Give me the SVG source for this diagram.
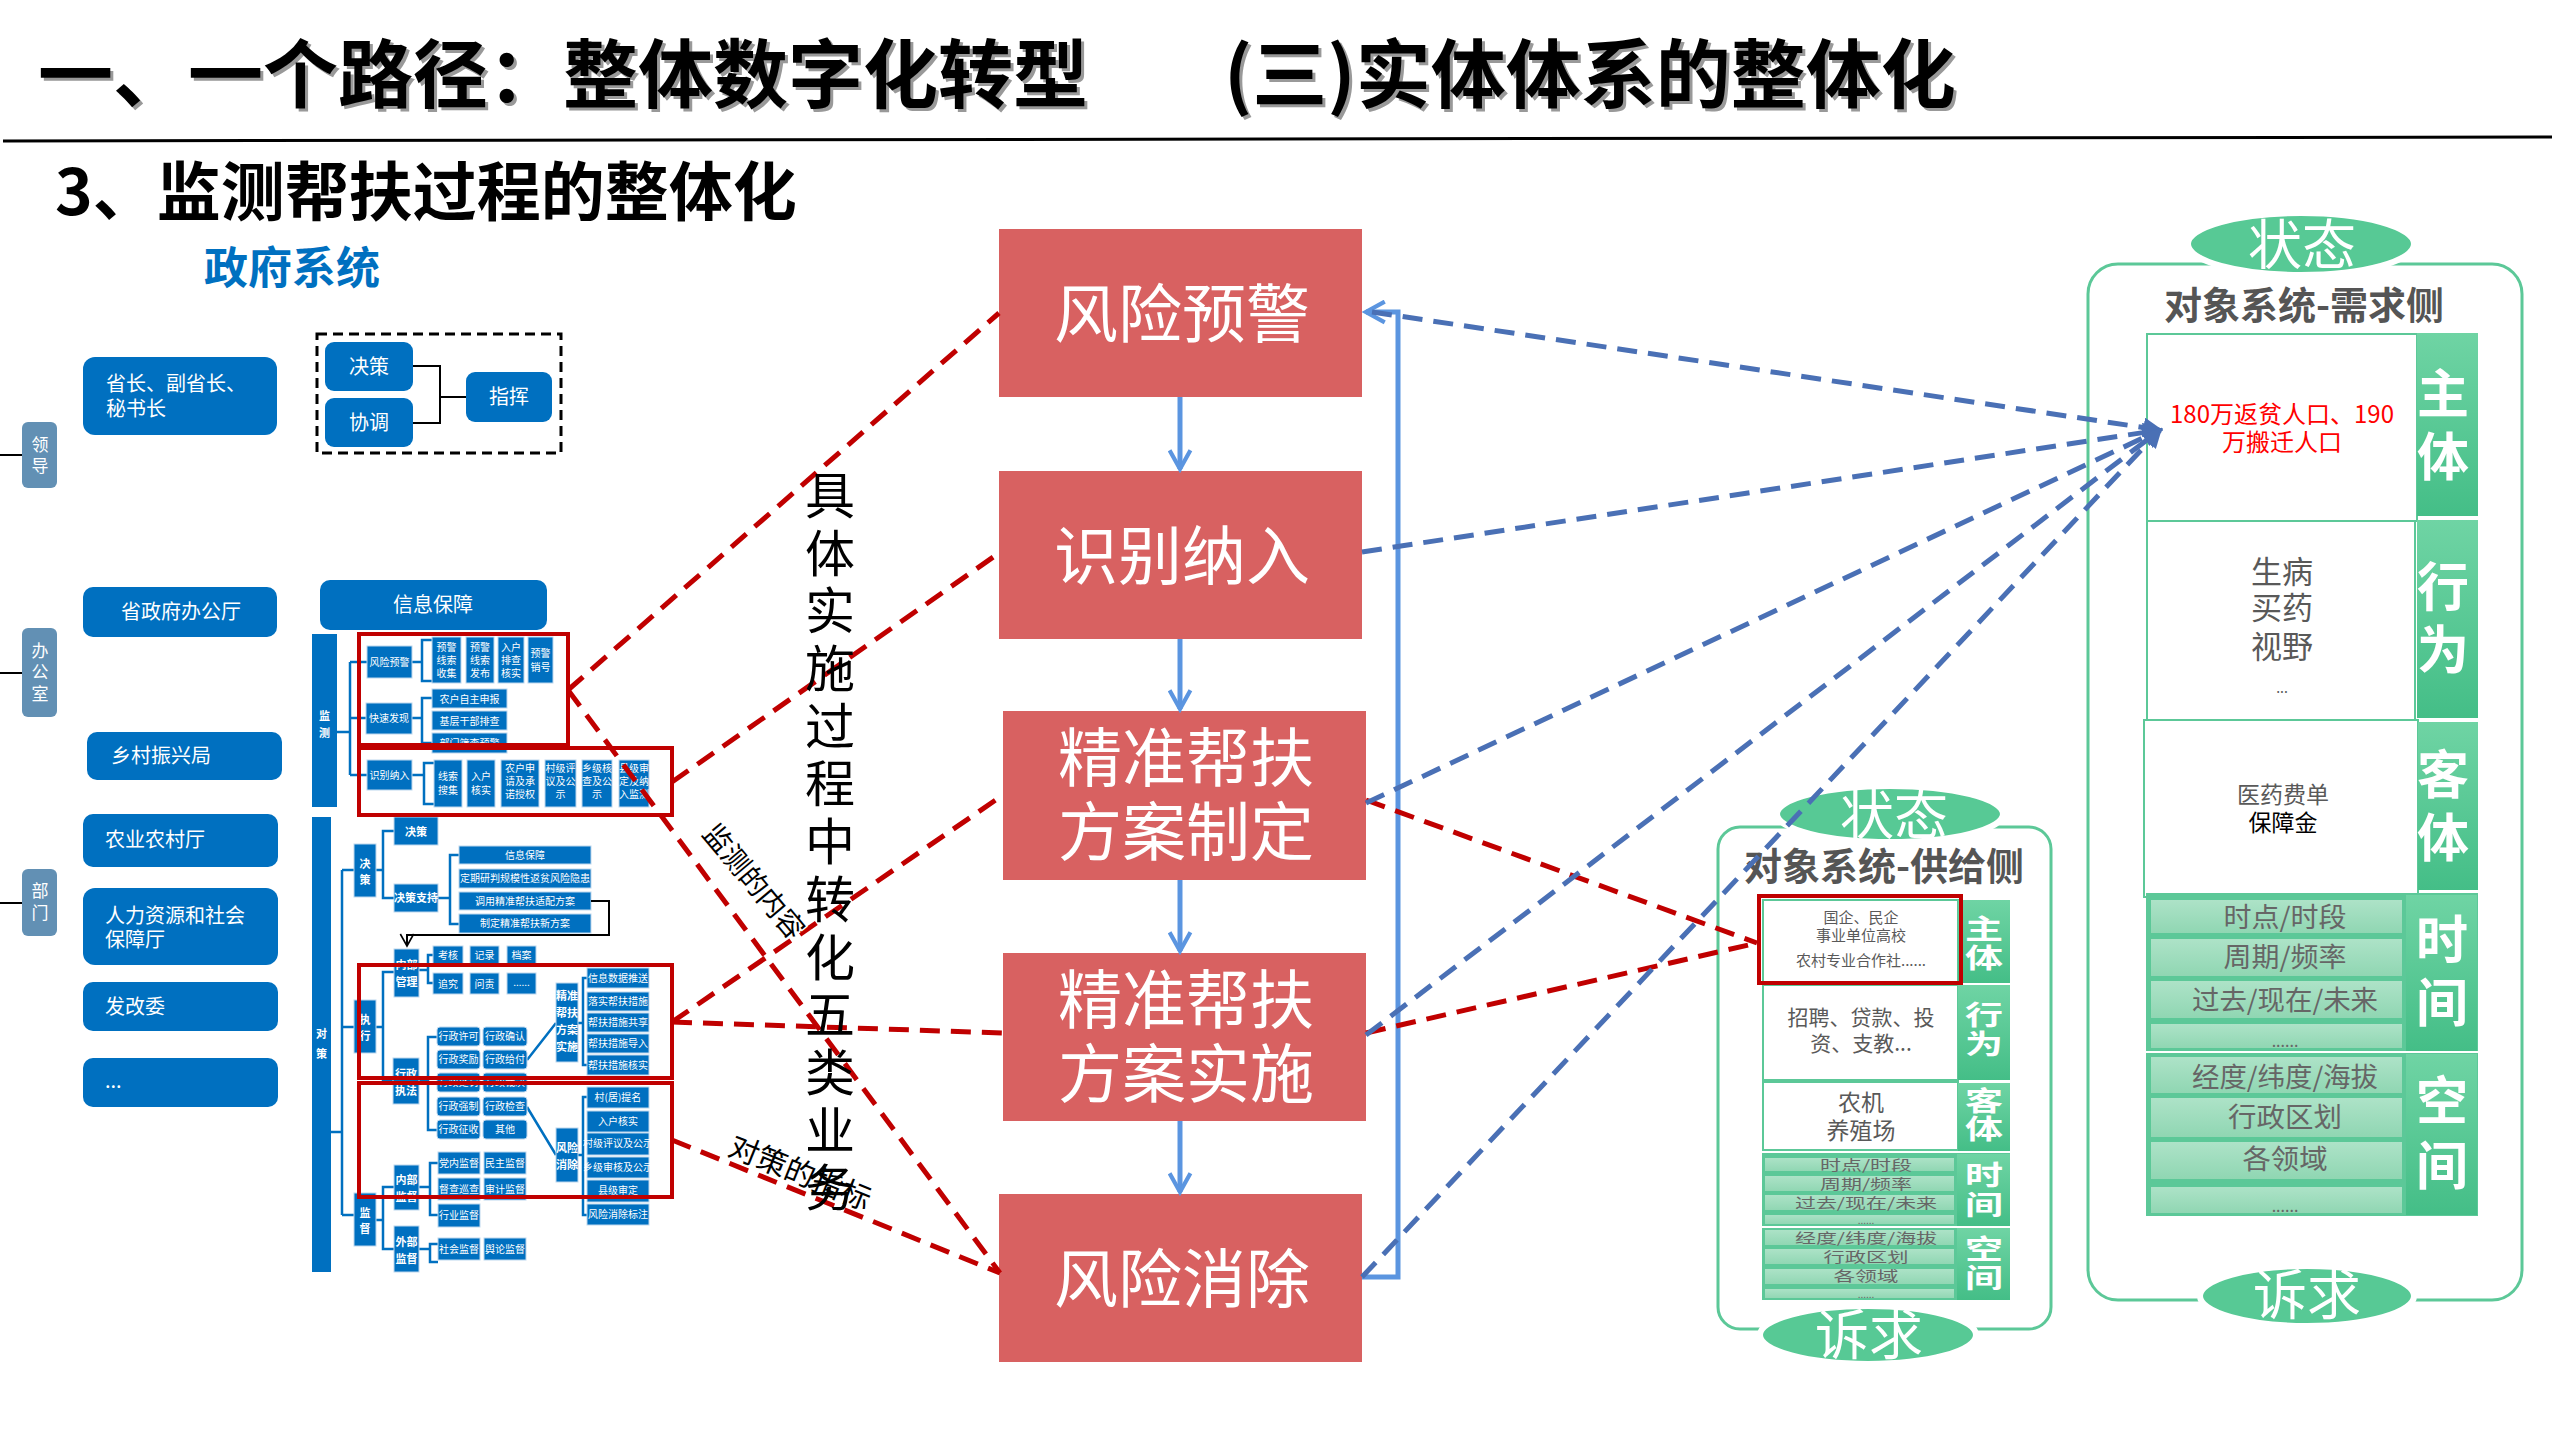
<svg xmlns="http://www.w3.org/2000/svg" width="2560" height="1440" viewBox="0 0 2560 1440">
<defs>
<style>
text{font-family:"Noto Sans CJK SC","Noto Sans",sans-serif}
.bb{fill:#0070C0}
.bt{fill:#fff;font-size:20px}
.sb{fill:#0070C0;stroke:#BDD7EE;stroke-width:1}
.st{fill:#fff;font-size:10px;text-anchor:middle}
.stb{fill:#fff;font-size:11px;font-weight:700;text-anchor:middle}
.lab{fill:#6290B4}
.lt{fill:#fff;font-size:17px;text-anchor:middle}
.tl{fill:none;stroke:#0070C0;stroke-width:2.5}
.rbox{fill:none;stroke:#C00000;stroke-width:4}
.flow{fill:#D86161}
.ft{fill:#fff;font-size:64px;text-anchor:middle}
.rd{fill:none;stroke:#C00000;stroke-width:5;stroke-dasharray:20 11}
.bd{fill:none;stroke:#4A70B5;stroke-width:5;stroke-dasharray:20 11}
.ba{fill:none;stroke:#5B95E0;stroke-width:5}
.gcol{fill:url(#gcol)}
.sub{fill:url(#gsub);stroke:#5CC898;stroke-width:2}
.gt{fill:#fff;font-weight:700;text-anchor:middle}
.wbox{fill:#fff;stroke:#5CC898;stroke-width:2}
.ct{fill:#595959;text-anchor:middle}
.ell{fill:#57C995;stroke:#fff;stroke-width:6}
.et{fill:#fff;font-size:54px;text-anchor:middle}
.vt{fill:#000;font-size:50px;text-anchor:middle}
</style>
<linearGradient id="gcol" x1="0" y1="0" x2="0" y2="1"><stop offset="0" stop-color="#6FD4A4"/><stop offset="1" stop-color="#44BE87"/></linearGradient>
<linearGradient id="gsub" x1="0" y1="0" x2="0" y2="1"><stop offset="0" stop-color="#AEE3C8"/><stop offset="1" stop-color="#8FD6B2"/></linearGradient>
<marker id="chev" viewBox="0 0 12 12" refX="10" refY="6" markerWidth="5" markerHeight="5" orient="auto"><path d="M1,1 L10,6 L1,11" fill="none" stroke="#5B95E0" stroke-width="2"/></marker>
<marker id="chevk" viewBox="0 0 12 12" refX="10" refY="6" markerWidth="8" markerHeight="8" orient="auto"><path d="M1,1 L10,6 L1,11" fill="none" stroke="#000" stroke-width="1.2"/></marker>
<marker id="tri" viewBox="0 0 12 12" refX="10" refY="6" markerWidth="4" markerHeight="4" orient="auto"><path d="M0,0 L12,6 L0,12 z" fill="#4A70B5"/></marker>
</defs>
<rect width="2560" height="1440" fill="#fff"/>

<g id="title">
<text x="41" y="105" font-size="75" font-weight="700" fill="#999">一、一个路径：整体数字化转型</text>
<text x="38" y="102" font-size="75" font-weight="700" fill="#000">一、一个路径：整体数字化转型</text>
<text x="1227" y="105" font-size="75" font-weight="700" fill="#999">(三)实体体系的整体化</text>
<text x="1224" y="102" font-size="75" font-weight="700" fill="#000">(三)实体体系的整体化</text>
<line x1="3" y1="141" x2="2552" y2="137" stroke="#000" stroke-width="3"/>
<text x="55" y="215" font-size="64" font-weight="700" fill="#000">3、监测帮扶过程的整体化</text>
<text x="204" y="284" font-size="44" font-weight="700" fill="#0070C0">政府系统</text>
</g>

<g id="gov-left">
<line x1="0" y1="455" x2="22" y2="455" stroke="#000" stroke-width="2"/>
<line x1="0" y1="673" x2="22" y2="673" stroke="#000" stroke-width="2"/>
<line x1="0" y1="903" x2="22" y2="903" stroke="#000" stroke-width="2"/>
<g id="lingdao"><rect class="lab" x="22" y="422" width="35" height="66" rx="6"/><text class="lt" x="40" y="451">领</text><text class="lt" x="40" y="472">导</text></g>
<g id="bangongshi"><rect class="lab" x="22" y="628" width="35" height="89" rx="6"/><text class="lt" x="40" y="657">办</text><text class="lt" x="40" y="678">公</text><text class="lt" x="40" y="700">室</text></g>
<g id="bumen"><rect class="lab" x="22" y="869" width="35" height="67" rx="6"/><text class="lt" x="40" y="897">部</text><text class="lt" x="40" y="919">门</text></g>
<g id="shengzhang"><rect class="bb" x="83" y="357" width="194" height="78" rx="12"/><text class="bt" x="106" y="391">省长、副省长、</text><text class="bt" x="106" y="416">秘书长</text></g>
<g id="juece-top"><rect class="bb" x="325" y="342" width="88" height="49" rx="9"/><text class="bt" x="369" y="374" text-anchor="middle" font-size="21">决策</text></g>
<g id="xietiao"><rect class="bb" x="325" y="398" width="88" height="49" rx="9"/><text class="bt" x="369" y="430" text-anchor="middle" font-size="21">协调</text></g>
<g id="zhihui"><rect class="bb" x="466" y="372" width="86" height="50" rx="9"/><text class="bt" x="509" y="404" text-anchor="middle" font-size="21">指挥</text></g>
<path d="M413,366 H440 V423 H413 M440,397 H466" fill="none" stroke="#000" stroke-width="2"/>
<rect x="317" y="334" width="244" height="119" fill="none" stroke="#000" stroke-width="3" stroke-dasharray="10 6"/>
<g id="bangongting"><rect class="bb" x="83" y="587" width="194" height="50" rx="10"/><text class="bt" x="181" y="619" text-anchor="middle" font-size="21">省政府办公厅</text></g>
<g id="xinxibaozhang-top"><rect class="bb" x="320" y="580" width="227" height="50" rx="10"/><text class="bt" x="433" y="612" text-anchor="middle" font-size="22">信息保障</text></g>
<g id="xiangcun"><rect class="bb" x="87" y="732" width="195" height="48" rx="10"/><text class="bt" x="111" y="763" font-size="21">乡村振兴局</text></g>
<g id="nongye"><rect class="bb" x="83" y="814" width="195" height="53" rx="10"/><text class="bt" x="105" y="847" font-size="21">农业农村厅</text></g>
<g id="renli"><rect class="bb" x="83" y="888" width="195" height="77" rx="12"/><text class="bt" x="105" y="923" font-size="21">人力资源和社会</text><text class="bt" x="105" y="947" font-size="21">保障厅</text></g>
<g id="fagaiwei"><rect class="bb" x="83" y="982" width="195" height="49" rx="10"/><text class="bt" x="105" y="1014" font-size="21">发改委</text></g>
<g id="more"><rect class="bb" x="83" y="1058" width="195" height="49" rx="10"/><text class="bt" x="105" y="1088" font-size="16">...</text></g>
</g>

<g id="monitor-tree">
<rect class="bb" x="312" y="634" width="25" height="173"/>
<text class="stb" x="324.5" y="720" font-size="13">监</text><text class="stb" x="324.5" y="737" font-size="13">测</text>
<path class="tl" d="M337,732 H350 M350,662 V775 M350,662 H367 M350,718 H366 M350,775 H367 M412,662 H422 M432,640 H422 V681 H432 M412,718 H422 M432,698 H422 V743 H432 M412,775 H424 M434,763 H424 V804 H434"/>
<rect class="sb" x="367" y="646" width="45" height="32"/><text class="st" x="389.5" y="666">风险预警</text>
<rect class="sb" x="432" y="637" width="29" height="46"/><text class="st" x="446.5" y="651" font-size="11">预警</text><text class="st" x="446.5" y="664" font-size="11">线索</text><text class="st" x="446.5" y="677" font-size="11">收集</text>
<rect class="sb" x="466" y="637" width="28" height="46"/><text class="st" x="480" y="651" font-size="11">预警</text><text class="st" x="480" y="664" font-size="11">线索</text><text class="st" x="480" y="677" font-size="11">发布</text>
<rect class="sb" x="498" y="637" width="26" height="46"/><text class="st" x="511" y="651" font-size="11">入户</text><text class="st" x="511" y="664" font-size="11">排查</text><text class="st" x="511" y="677" font-size="11">核实</text>
<rect class="sb" x="528" y="637" width="25" height="46"/><text class="st" x="540.5" y="657" font-size="11">预警</text><text class="st" x="540.5" y="671" font-size="11">销号</text>
<rect class="sb" x="366" y="703" width="46" height="31"/><text class="st" x="389" y="722">快速发现</text>
<rect class="sb" x="432" y="689" width="75" height="19"/><text class="st" x="469.5" y="703" font-size="11">农户自主申报</text>
<rect class="sb" x="432" y="711" width="75" height="19"/><text class="st" x="469.5" y="725" font-size="11">基层干部排查</text>
<rect class="sb" x="432" y="733" width="75" height="20"/><text class="st" x="469.5" y="747" font-size="11">部门筛查预警</text>
<rect class="sb" x="367" y="760" width="45" height="30"/><text class="st" x="389.5" y="779">识别纳入</text>
<rect class="sb" x="434" y="760" width="28" height="47"/><text class="st" x="448" y="780" font-size="11">线索</text><text class="st" x="448" y="794" font-size="11">搜集</text>
<rect class="sb" x="467" y="760" width="28" height="47"/><text class="st" x="481" y="780" font-size="11">入户</text><text class="st" x="481" y="794" font-size="11">核实</text>
<rect class="sb" x="501" y="760" width="38" height="47"/><text class="st" x="520" y="772" font-size="11">农户申</text><text class="st" x="520" y="785" font-size="11">请及承</text><text class="st" x="520" y="798" font-size="11">诺授权</text>
<rect class="sb" x="545" y="760" width="31" height="47"/><text class="st" x="560.5" y="772">村级评</text><text class="st" x="560.5" y="785">议及公</text><text class="st" x="560.5" y="798">示</text>
<rect class="sb" x="582" y="760" width="30" height="47"/><text class="st" x="597" y="772">乡级核</text><text class="st" x="597" y="785">查及公</text><text class="st" x="597" y="798">示</text>
<rect class="sb" x="619" y="760" width="30" height="47"/><text class="st" x="634" y="772">县级审</text><text class="st" x="634" y="785">定及纳</text><text class="st" x="634" y="798">入监测</text>
</g>

<g id="policy-tree">
<rect class="bb" x="312" y="817" width="19" height="455"/>
<text class="stb" x="321.5" y="1038" font-size="14">对</text><text class="stb" x="321.5" y="1058" font-size="14">策</text>
<path class="tl" d="M331,1132 H342 M342,870 V1215 M342,870 H354 M342,1027 H354 M342,1215 H354 M376,870 H383 M394,831 H383 V898 H394 M438,898 H450 M459,855 H450 V924 H459 M376,1027 H383 M394,972 H383 V1080 H393 M419,970 H428 M433,955 H428 V983 H433 M419,1081 H428 M437,1037 H428 V1130 H437 M527,1060 L556,1023 M527,1107 L556,1155 M578,1023 H583 M587,978 H583 V1065 H587 M578,1155 H583 M587,1097 H583 V1215 H587 M376,1220 H383 M394,1187 H383 V1249 H394 M419,1187 H430 M438,1163 H430 V1215 H438 M419,1249 H430 M438,1244 H430 V1262 H438"/>
<rect class="sb" x="354" y="844" width="22" height="53"/><text class="stb" x="365" y="868" font-size="13">决</text><text class="stb" x="365" y="884" font-size="13">策</text>
<rect class="sb" x="394" y="817" width="44" height="28"/><text class="stb" x="416" y="836" font-size="13">决策</text>
<rect class="sb" x="394" y="884" width="44" height="28"/><text class="stb" x="416" y="902" font-size="10">决策支持</text>
<rect class="sb" x="459" y="846" width="132" height="18"/><text class="st" x="525" y="859" font-size="9.5">信息保障</text>
<rect class="sb" x="459" y="869" width="132" height="19"/><text class="st" x="525" y="882" font-size="9.5">定期研判规模性返贫风险隐患</text>
<rect class="sb" x="459" y="892" width="132" height="18"/><text class="st" x="525" y="905" font-size="9.5">调用精准帮扶适配方案</text>
<rect class="sb" x="459" y="914" width="132" height="19"/><text class="st" x="525" y="927" font-size="9.5">制定精准帮扶新方案</text>
<path d="M591,901 H609 V935 H407 V946" fill="none" stroke="#000" stroke-width="2" marker-end="url(#chevk)"/>
<rect class="sb" x="354" y="1000" width="22" height="53"/><text class="stb" x="365" y="1024" font-size="13">执</text><text class="stb" x="365" y="1040" font-size="13">行</text>
<rect class="sb" x="394" y="949" width="25" height="48"/><text class="stb" x="406.5" y="969">内部</text><text class="stb" x="406.5" y="986">管理</text>
<rect class="sb" x="433" y="946" width="30" height="18"/><text class="st" x="448" y="959">考核</text>
<rect class="sb" x="470" y="946" width="29" height="18"/><text class="st" x="484.5" y="959">记录</text>
<rect class="sb" x="507" y="946" width="29" height="18"/><text class="st" x="521.5" y="959">档案</text>
<rect class="sb" x="433" y="973" width="30" height="21"/><text class="st" x="448" y="988">追究</text>
<rect class="sb" x="470" y="973" width="29" height="21"/><text class="st" x="484.5" y="988">问责</text>
<rect class="sb" x="507" y="973" width="29" height="21"/><text class="st" x="521.5" y="986" font-size="8">......</text>
<rect class="sb" x="393" y="1058" width="26" height="46"/><text class="stb" x="406" y="1078">行政</text><text class="stb" x="406" y="1095">执法</text>
<rect class="sb" x="437" y="1027" width="43" height="19" rx="3"/><text class="st" x="458.5" y="1040" font-size="9.5">行政许可</text>
<rect class="sb" x="483" y="1027" width="44" height="19" rx="3"/><text class="st" x="505" y="1040" font-size="9.5">行政确认</text>
<rect class="sb" x="437" y="1050" width="43" height="19" rx="3"/><text class="st" x="458.5" y="1063" font-size="9.5">行政奖励</text>
<rect class="sb" x="483" y="1050" width="44" height="19" rx="3"/><text class="st" x="505" y="1063" font-size="9.5">行政给付</text>
<rect class="sb" x="437" y="1073" width="43" height="19" rx="3"/><text class="st" x="458.5" y="1086" font-size="9.5">行政处罚</text>
<rect class="sb" x="483" y="1073" width="44" height="19" rx="3"/><text class="st" x="505" y="1086" font-size="9.5">行政裁决</text>
<rect class="sb" x="437" y="1097" width="43" height="19" rx="3"/><text class="st" x="458.5" y="1110" font-size="9.5">行政强制</text>
<rect class="sb" x="483" y="1097" width="44" height="19" rx="3"/><text class="st" x="505" y="1110" font-size="9.5">行政检查</text>
<rect class="sb" x="437" y="1120" width="43" height="19" rx="3"/><text class="st" x="458.5" y="1133" font-size="9.5">行政征收</text>
<rect class="sb" x="483" y="1120" width="44" height="19" rx="3"/><text class="st" x="505" y="1133" font-size="9.5">其他</text>
<rect class="sb" x="556" y="983" width="22" height="79"/><text class="stb" x="567" y="1000" font-size="10">精准</text><text class="stb" x="567" y="1017" font-size="10">帮扶</text><text class="stb" x="567" y="1034" font-size="10">方案</text><text class="stb" x="567" y="1051" font-size="10">实施</text>
<rect class="sb" x="587" y="968" width="62" height="20"/><text class="st" x="618" y="982" font-size="9.5">信息数据推送</text>
<rect class="sb" x="587" y="992" width="62" height="19"/><text class="st" x="618" y="1005" font-size="9.5">落实帮扶措施</text>
<rect class="sb" x="587" y="1013" width="62" height="19"/><text class="st" x="618" y="1026" font-size="9.5">帮扶措施共享</text>
<rect class="sb" x="587" y="1034" width="62" height="19"/><text class="st" x="618" y="1047" font-size="9.5">帮扶措施导入</text>
<rect class="sb" x="587" y="1055" width="62" height="20"/><text class="st" x="618" y="1069" font-size="9.5">帮扶措施核实</text>
<rect class="sb" x="556" y="1128" width="22" height="54"/><text class="stb" x="567" y="1152" font-size="10">风险</text><text class="stb" x="567" y="1169" font-size="10">消除</text>
<rect class="sb" x="587" y="1087" width="62" height="21"/><text class="st" x="618" y="1101" font-size="9.5">村(居)提名</text>
<rect class="sb" x="587" y="1111" width="62" height="21"/><text class="st" x="618" y="1125" font-size="9.5">入户核实</text>
<rect class="sb" x="587" y="1133" width="62" height="22"/><text class="st" x="618" y="1147" font-size="8.5">村级评议及公示</text>
<rect class="sb" x="587" y="1157" width="62" height="21"/><text class="st" x="618" y="1171" font-size="8.5">乡级审核及公示</text>
<rect class="sb" x="587" y="1180" width="62" height="22"/><text class="st" x="618" y="1194" font-size="9.5">县级审定</text>
<rect class="sb" x="587" y="1204" width="62" height="21"/><text class="st" x="618" y="1218" font-size="9.5">风险消除标注</text>
<rect class="sb" x="354" y="1193" width="22" height="53"/><text class="stb" x="365" y="1217" font-size="13">监</text><text class="stb" x="365" y="1233" font-size="13">督</text>
<rect class="sb" x="394" y="1165" width="25" height="45"/><text class="stb" x="406.5" y="1184">内部</text><text class="stb" x="406.5" y="1201">监督</text>
<rect class="sb" x="394" y="1226" width="25" height="46"/><text class="stb" x="406.5" y="1246">外部</text><text class="stb" x="406.5" y="1263">监督</text>
<rect class="sb" x="438" y="1152" width="42" height="22"/><text class="st" x="459" y="1167" font-size="9.5">党内监督</text>
<rect class="sb" x="484" y="1152" width="42" height="22"/><text class="st" x="505" y="1167" font-size="9.5">民主监督</text>
<rect class="sb" x="438" y="1178" width="42" height="22"/><text class="st" x="459" y="1193" font-size="9.5">督查巡查</text>
<rect class="sb" x="484" y="1178" width="42" height="22"/><text class="st" x="505" y="1193" font-size="9.5">审计监督</text>
<rect class="sb" x="438" y="1204" width="42" height="23"/><text class="st" x="459" y="1219" font-size="9.5">行业监督</text>
<rect class="sb" x="438" y="1238" width="42" height="22"/><text class="st" x="459" y="1253" font-size="9.5">社会监督</text>
<rect class="sb" x="484" y="1238" width="42" height="22"/><text class="st" x="505" y="1253" font-size="9.5">舆论监督</text>
</g>

<g id="red-boxes">
<rect class="rbox" x="359" y="634" width="209" height="111"/>
<rect class="rbox" x="359" y="748" width="313" height="67"/>
<rect class="rbox" x="359" y="965" width="313" height="113"/>
<rect class="rbox" x="359" y="1083" width="313" height="114"/>
</g>

<g id="flow-fengxianyujing"><rect class="flow" x="999" y="229" width="363" height="168"/><text class="ft" x="1182" y="337">风险预警</text></g>
<g id="flow-shibienaru"><rect class="flow" x="999" y="471" width="363" height="168"/><text class="ft" x="1182" y="579">识别纳入</text></g>
<g id="flow-fanganzhiding"><rect class="flow" x="1003" y="711" width="363" height="169"/><text class="ft" x="1186" y="781">精准帮扶</text><text class="ft" x="1186" y="855">方案制定</text></g>
<g id="flow-fangganshishi"><rect class="flow" x="1003" y="953" width="363" height="168"/><text class="ft" x="1186" y="1023">精准帮扶</text><text class="ft" x="1186" y="1097">方案实施</text></g>
<g id="flow-fengxianxiaochu"><rect class="flow" x="999" y="1194" width="363" height="168"/><text class="ft" x="1182" y="1302">风险消除</text></g>

<g id="supply-side">
<rect x="1718" y="827" width="333" height="502" rx="22" fill="none" stroke="#5CC898" stroke-width="3"/>
<text x="1884" y="880" font-size="38" font-weight="700" fill="#555" text-anchor="middle">对象系统-供给侧</text>
<rect class="wbox" x="1763" y="900" width="195" height="83"/>
<rect class="wbox" x="1763" y="985" width="195" height="95"/>
<rect class="wbox" x="1763" y="1082" width="195" height="68"/>
<rect class="gcol" x="1958" y="900" width="52" height="83"/>
<rect class="gcol" x="1958" y="985" width="52" height="95"/>
<rect class="gcol" x="1958" y="1083" width="52" height="68"/>
<rect x="1762" y="1153" width="248" height="147" fill="#5CC898"/>
<line x1="1762" y1="1227" x2="2010" y2="1227" stroke="#fff" stroke-width="2"/>
<rect class="gcol" x="1957" y="1154" width="53" height="72"/>
<rect class="gcol" x="1957" y="1228" width="53" height="72"/>
<rect class="sub" x="1764" y="1157" width="191" height="15"/>
<rect class="sub" x="1764" y="1175" width="191" height="17"/>
<rect class="sub" x="1764" y="1194" width="191" height="17"/>
<rect class="sub" x="1764" y="1214" width="191" height="11"/>
<rect class="sub" x="1764" y="1229" width="191" height="17"/>
<rect class="sub" x="1764" y="1248" width="191" height="17"/>
<rect class="sub" x="1764" y="1268" width="191" height="17"/>
<rect class="sub" x="1764" y="1288" width="191" height="11"/>
<text class="ct" x="1861" y="923" font-size="15">国企、民企</text>
<text class="ct" x="1861" y="941" font-size="15">事业单位高校</text>
<text class="ct" x="1861" y="966" font-size="15">农村专业合作社......</text>
<text class="ct" x="1861" y="1025" font-size="21">招聘、贷款、投</text>
<text class="ct" x="1861" y="1051" font-size="21">资、支教...</text>
<text class="ct" x="1861" y="1111" font-size="23">农机</text>
<text class="ct" x="1861" y="1139" font-size="23">养殖场</text>
<g font-size="14" fill="#666" text-anchor="middle" lengthAdjust="spacingAndGlyphs">
<text x="1866" y="1170" textLength="92" lengthAdjust="spacingAndGlyphs">时点/时段</text>
<text x="1866" y="1189" textLength="92" lengthAdjust="spacingAndGlyphs">周期/频率</text>
<text x="1866" y="1208" textLength="142" lengthAdjust="spacingAndGlyphs">过去/现在/未来</text>
<text x="1866" y="1224" font-size="10">......</text>
<text x="1866" y="1243" textLength="142" lengthAdjust="spacingAndGlyphs">经度/纬度/海拔</text>
<text x="1866" y="1262" textLength="85" lengthAdjust="spacingAndGlyphs">行政区划</text>
<text x="1866" y="1281" textLength="65" lengthAdjust="spacingAndGlyphs">各领域</text>
<text x="1866" y="1298" font-size="10">......</text>
</g>
<g class="gt" font-size="27">
<text x="1984" y="939" textLength="38" lengthAdjust="spacingAndGlyphs">主</text>
<text x="1984" y="968" textLength="38" lengthAdjust="spacingAndGlyphs">体</text>
<text x="1984" y="1025" textLength="38" lengthAdjust="spacingAndGlyphs">行</text>
<text x="1984" y="1054" textLength="38" lengthAdjust="spacingAndGlyphs">为</text>
<text x="1984" y="1111" textLength="38" lengthAdjust="spacingAndGlyphs">客</text>
<text x="1984" y="1139" textLength="38" lengthAdjust="spacingAndGlyphs">体</text>
<text x="1984" y="1185" textLength="38" lengthAdjust="spacingAndGlyphs">时</text>
<text x="1984" y="1215" textLength="38" lengthAdjust="spacingAndGlyphs">间</text>
<text x="1984" y="1259" textLength="38" lengthAdjust="spacingAndGlyphs">空</text>
<text x="1984" y="1288" textLength="38" lengthAdjust="spacingAndGlyphs">间</text>
</g>
<rect class="rbox" x="1759" y="896" width="202" height="87"/>
<ellipse class="ell" cx="1890" cy="814" rx="113" ry="28"/>
<text class="et" x="1894" y="835">状态</text>
<ellipse class="ell" cx="1868" cy="1335" rx="108" ry="29"/>
<text class="et" x="1869" y="1355">诉求</text>
</g>

<g id="demand-side">
<rect x="2088" y="264" width="434" height="1036" rx="30" fill="none" stroke="#5CC898" stroke-width="3"/>
<text x="2304" y="319" font-size="38" font-weight="700" fill="#555" text-anchor="middle">对象系统-需求侧</text>
<rect class="wbox" x="2147" y="334" width="270" height="187"/>
<rect class="wbox" x="2147" y="521" width="268" height="199"/>
<rect class="wbox" x="2144" y="720" width="274" height="177"/>
<rect class="gcol" x="2417" y="333" width="61" height="183"/>
<rect class="gcol" x="2417" y="520" width="61" height="198"/>
<rect class="gcol" x="2418" y="722" width="60" height="168"/>
<rect x="2146" y="893" width="332" height="323" fill="#5CC898"/>
<line x1="2146" y1="1052" x2="2478" y2="1052" stroke="#fff" stroke-width="2"/>
<rect class="gcol" x="2406" y="895" width="71" height="156"/>
<rect class="gcol" x="2406" y="1054" width="71" height="161"/>
<rect class="sub" x="2150" y="899" width="253" height="35"/>
<rect class="sub" x="2150" y="938" width="253" height="39"/>
<rect class="sub" x="2150" y="980" width="253" height="39"/>
<rect class="sub" x="2150" y="1023" width="253" height="26"/>
<rect class="sub" x="2150" y="1056" width="253" height="38"/>
<rect class="sub" x="2150" y="1097" width="253" height="41"/>
<rect class="sub" x="2150" y="1141" width="253" height="39"/>
<rect class="sub" x="2150" y="1186" width="253" height="28"/>
<text x="2282" y="423" font-size="24" fill="#FF0000" text-anchor="middle">180万返贫人口、190</text>
<text x="2282" y="451" font-size="24" fill="#FF0000" text-anchor="middle">万搬迁人口</text>
<text class="ct" x="2282" y="583" font-size="31">生病</text>
<text class="ct" x="2282" y="619" font-size="31">买药</text>
<text class="ct" x="2282" y="658" font-size="31">视野</text>
<text class="ct" x="2282" y="693" font-size="14">...</text>
<text class="ct" x="2283" y="803" font-size="23">医药费单</text>
<text x="2283" y="831" font-size="23" fill="#000" text-anchor="middle">保障金</text>
<g font-size="27" fill="#666" text-anchor="middle">
<text x="2285" y="927" textLength="123" lengthAdjust="spacingAndGlyphs">时点/时段</text>
<text x="2285" y="967" textLength="123" lengthAdjust="spacingAndGlyphs">周期/频率</text>
<text x="2285" y="1010" textLength="186" lengthAdjust="spacingAndGlyphs">过去/现在/未来</text>
<text x="2285" y="1047" font-size="16">......</text>
<text x="2285" y="1087" textLength="186" lengthAdjust="spacingAndGlyphs">经度/纬度/海拔</text>
<text x="2285" y="1127" textLength="114" lengthAdjust="spacingAndGlyphs">行政区划</text>
<text x="2285" y="1169" textLength="85" lengthAdjust="spacingAndGlyphs">各领域</text>
<text x="2285" y="1212" font-size="16">......</text>
</g>
<g class="gt" font-size="52">
<text x="2443" y="413">主</text>
<text x="2443" y="476">体</text>
<text x="2443" y="606">行</text>
<text x="2443" y="669">为</text>
<text x="2443" y="794">客</text>
<text x="2443" y="857">体</text>
<text x="2442" y="959">时</text>
<text x="2442" y="1022">间</text>
<text x="2442" y="1120">空</text>
<text x="2442" y="1185">间</text>
</g>
<ellipse class="ell" cx="2301" cy="244" rx="113" ry="31"/>
<text class="et" x="2302" y="265">状态</text>
<ellipse class="ell" cx="2307" cy="1296" rx="107" ry="30"/>
<text class="et" x="2307" y="1315">诉求</text>
</g>

<g id="connectors">
<line class="ba" x1="1180" y1="397" x2="1180" y2="469" marker-end="url(#chev)"/>
<line class="ba" x1="1180" y1="639" x2="1180" y2="709" marker-end="url(#chev)"/>
<line class="ba" x1="1180" y1="880" x2="1180" y2="951" marker-end="url(#chev)"/>
<line class="ba" x1="1180" y1="1121" x2="1180" y2="1192" marker-end="url(#chev)"/>
<path class="ba" d="M1362,1277 H1398 V312 H1366" marker-end="url(#chev)"/>
<path class="rd" d="M568,690 L999,313"/>
<path class="rd" d="M568,690 L1000,1273"/>
<path class="rd" d="M672,782 L999,553"/>
<path class="rd" d="M672,1022 L1003,795"/>
<path class="rd" d="M672,1022 L1003,1033"/>
<path class="rd" d="M672,1140 L1000,1273"/>
<path class="rd" d="M1366,800 L1757,943"/>
<path class="rd" d="M1366,1033 L1757,943"/>
<path class="bd" d="M1372,312 L2160,430" marker-end="url(#tri)"/>
<path class="bd" d="M1362,552 L2160,430" marker-end="url(#tri)"/>
<path class="bd" d="M1366,803 L2160,430" marker-end="url(#tri)"/>
<path class="bd" d="M1366,1035 L2160,430" marker-end="url(#tri)"/>
<path class="bd" d="M1362,1277 L2160,430" marker-end="url(#tri)"/>
</g>

<g id="labels">
<text transform="translate(752,883) rotate(50)" font-size="28" text-anchor="middle" dominant-baseline="middle" fill="#000" stroke="#fff" stroke-width="3" paint-order="stroke">监测的内容</text>
<text transform="translate(799,1175) rotate(22)" font-size="30" text-anchor="middle" dominant-baseline="middle" fill="#000" stroke="#fff" stroke-width="3" paint-order="stroke">对策的指标</text>
<g class="vt">
<text x="830" y="514">具</text><text x="830" y="572">体</text><text x="830" y="629">实</text><text x="830" y="687">施</text><text x="830" y="745">过</text><text x="830" y="802">程</text><text x="830" y="860">中</text><text x="830" y="918">转</text><text x="830" y="976">化</text><text x="830" y="1033">五</text><text x="830" y="1091">类</text><text x="830" y="1149">业</text><text x="830" y="1206">务</text>
</g>
</g>
</svg>
